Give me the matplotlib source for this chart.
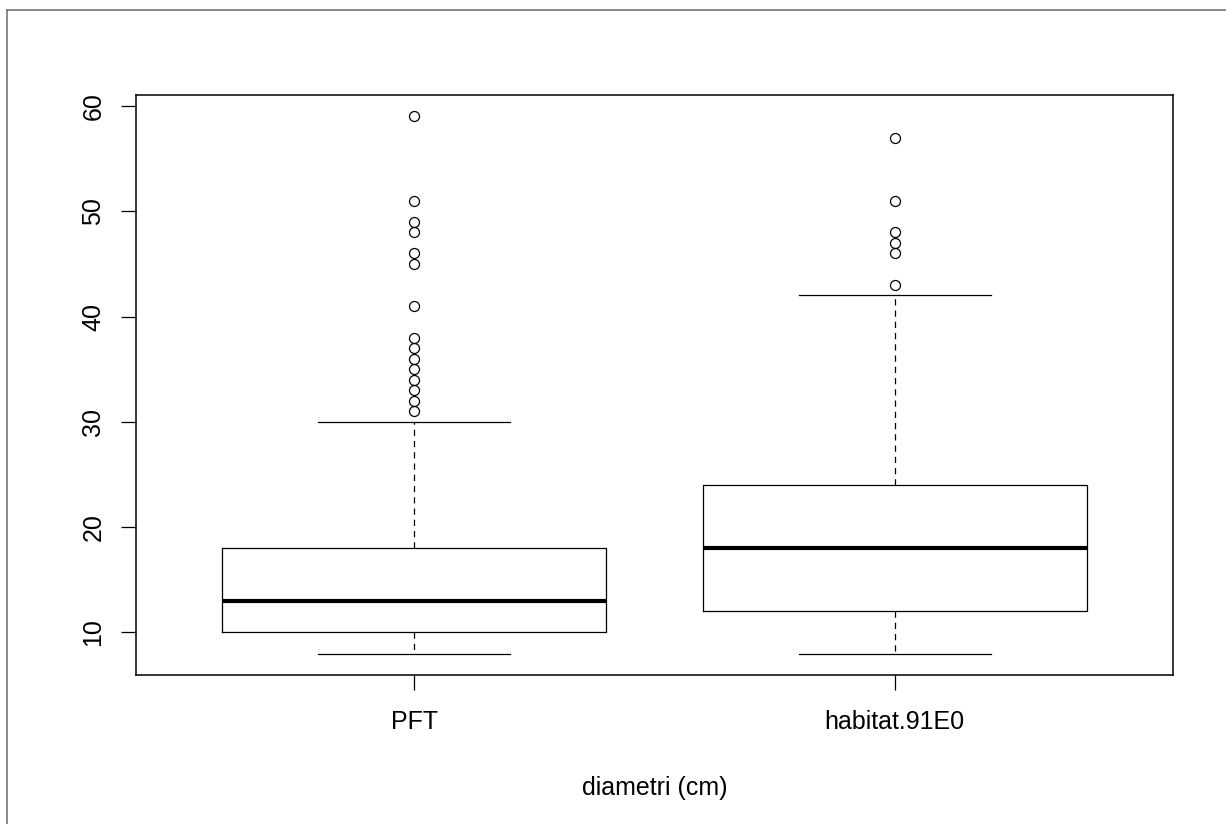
import matplotlib
matplotlib.use("Agg")
import matplotlib.pyplot as plt
from matplotlib.lines import Line2D

plt.rcParams['font.family'] = ['Liberation Sans', 'DejaVu Sans']

# Data
categories = ["PFT", "habitat.91E0"]
whislo = [8, 8]
q1 = [10, 12]
medians = [13, 18]
q3 = [18, 24]
whishi = [30, 42]
outliers = [
    [31, 32, 33, 34, 35, 36, 37, 38, 41, 45, 46, 48, 49, 51, 59],
    [43, 46, 47, 48, 51, 57],
]
yticks = [10, 20, 30, 40, 50, 60]
xlabel = "diametri (cm)"

stats = []
for i, name in enumerate(categories):
    stats.append(dict(label=name, whislo=whislo[i], q1=q1[i], med=medians[i],
                      q3=q3[i], whishi=whishi[i], fliers=outliers[i]))

fig = plt.figure(figsize=(12.26, 8.24), dpi=100)
ax = fig.add_axes([136/1226, 1-675/824, (1173-136)/1226, (675-95)/824])

ax.bxp(stats, positions=[1, 2], widths=0.8, capwidths=0.4,
       boxprops=dict(color='black', linewidth=0.9),
       medianprops=dict(color='black', linewidth=3.0, solid_capstyle='butt'),
       whiskerprops=dict(color='black', linewidth=0.9, linestyle=(0, (5, 4))),
       capprops=dict(color='black', linewidth=0.9),
       flierprops=dict(marker='o', markerfacecolor='none', markeredgecolor='black',
                       markersize=7.2, markeredgewidth=0.9, linestyle='none'))

ax.set_xlim(0.42, 2.58)
ax.set_ylim(5.96, 61.04)
ax.set_yticks(yticks)
ax.set_yticklabels([str(t) for t in yticks], rotation=90, va='center')
ax.set_xticks([1, 2])
ax.set_xticklabels(categories)
ax.tick_params(axis='both', labelsize=18, length=11, width=0.9, color='black')
ax.tick_params(axis='y', pad=11)
ax.tick_params(axis='x', pad=14)
for s in ax.spines.values():
    s.set_linewidth(1.1)
    s.set_color('black')

fig.text(655/1226, 1-788/824, xlabel, ha='center', va='center', fontsize=18)

# Partial gray border (top and left) as in the screenshot
fig.add_artist(Line2D([7/1226, 1.0], [1-10/824, 1-10/824], transform=fig.transFigure,
                      color='#777777', linewidth=1.2))
fig.add_artist(Line2D([7/1226, 7/1226], [0.0, 1-10/824], transform=fig.transFigure,
                      color='#777777', linewidth=1.2))

fig.savefig("out.png", dpi=100)
